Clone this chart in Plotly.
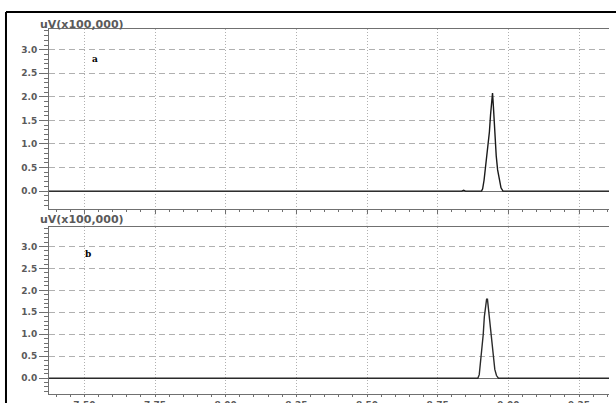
import plotly.graph_objects as go

# Retention time window (min) and detector scale (uV x 100,000)
x_range = [7.375, 9.356]
x_ticks = [7.50, 7.75, 8.00, 8.25, 8.50, 8.75, 9.00, 9.25]
x_tick_text = ["7.50", "7.75", "8.00", "8.25", "8.50", "8.75", "9.00", "9.25"]
y_ticks = [0.0, 0.5, 1.0, 1.5, 2.0, 2.5, 3.0]
y_tick_text = ["0.0", "0.5", "1.0", "1.5", "2.0", "2.5", "3.0"]

# Chromatogram a
time_a = [7.375, 8.835, 8.842, 8.848, 8.905, 8.909, 8.914, 8.918, 8.923, 8.928,
          8.933, 8.937, 8.941, 8.944, 8.947, 8.950, 8.953, 8.957, 8.962, 8.968,
          8.974, 8.981, 9.356]
signal_a = [0.0, 0.0, 0.02, 0.0, 0.0, 0.05, 0.23, 0.45, 0.70, 0.98,
            1.26, 1.62, 1.95, 2.08, 1.80, 1.45, 1.15, 0.75, 0.45, 0.22,
            0.07, 0.0, 0.0]

# Chromatogram b
time_b = [7.375, 8.892, 8.897, 8.902, 8.907, 8.911, 8.915, 8.919, 8.923, 8.926,
          8.929, 8.932, 8.935, 8.939, 8.943, 8.947, 8.952, 8.958, 8.965, 9.356]
signal_b = [0.0, 0.0, 0.08, 0.40, 0.70, 0.99, 1.40, 1.62, 1.80, 1.80,
            1.60, 1.45, 1.20, 0.95, 0.70, 0.45, 0.20, 0.06, 0.0, 0.0]

axis_grey = "#707070"
grid_grey = "#b0b0b0"
text_grey = "#5a5a5a"
tick_font = dict(family="DejaVu Sans", size=9, color=text_grey, weight="bold")
v_dash = "1px,2px"
h_dash = "6px,4px"

fig = go.Figure()
fig.add_trace(go.Scatter(x=time_a, y=signal_a, mode="lines", xaxis="x", yaxis="y",
                         line=dict(color="#1a1a1a", width=1.4), showlegend=False))
fig.add_trace(go.Scatter(x=time_b, y=signal_b, mode="lines", xaxis="x2", yaxis="y2",
                         line=dict(color="#2a2a2a", width=1.4), showlegend=False))

top_dom = [0.5068, 1.0]
bot_dom = [0.0, 0.4584]


def x_axis(show_labels, anchor, ticklen):
    return dict(
        domain=[0, 1], range=x_range, anchor=anchor, automargin=False,
        tickvals=x_ticks, ticktext=x_tick_text, showticklabels=show_labels,
        tickfont=tick_font, ticks="outside", ticklen=ticklen, tickcolor=axis_grey,
        showline=True, linecolor=axis_grey, linewidth=1, mirror=True,
        showgrid=True, gridcolor=grid_grey, griddash=v_dash, gridwidth=1,
        zeroline=False,
        minor=dict(dtick=0.05, tick0=7.5, ticks="outside", ticklen=2,
                   tickcolor=axis_grey, showgrid=False),
    )


def y_axis(dom, rng, anchor):
    return dict(
        domain=dom, range=rng, anchor=anchor, automargin=False,
        tickvals=y_ticks, ticktext=y_tick_text, tickfont=tick_font,
        ticks="outside", ticklen=9, tickcolor=axis_grey,
        showline=True, linecolor=axis_grey, linewidth=1, mirror=False,
        showgrid=True, gridcolor=grid_grey, griddash=h_dash, gridwidth=1,
        zeroline=True, zerolinecolor=axis_grey, zerolinewidth=1.2,
        minor=dict(dtick=0.1, tick0=0, ticks="outside", ticklen=4,
                   tickcolor=axis_grey, showgrid=False),
    )


shapes = []
# vertical grid lines continue through the gap between the panels
for t in x_ticks:
    shapes.append(dict(type="line", xref="x2", yref="paper", x0=t, x1=t,
                       y0=bot_dom[1], y1=top_dom[0],
                       line=dict(color=grid_grey, width=1, dash=v_dash), layer="below"))
# outer frame
shapes.append(dict(type="line", xref="paper", yref="paper", x0=-0.0768, x1=-0.0768,
                   y0=-0.2, y1=1.0466, line=dict(color="black", width=2)))
shapes.append(dict(type="line", xref="paper", yref="paper", x0=-0.0768, x1=1.2,
                   y0=1.0466, y1=1.0466, line=dict(color="black", width=2)))

unit_font = dict(family="DejaVu Sans", size=11, color=text_grey, weight="bold")
annotations = [
    dict(text="uV(x100,000)", xref="paper", yref="paper", x=0.0584, y=1.011,
         xanchor="center", yanchor="middle", showarrow=False, font=unit_font),
    dict(text="uV(x100,000)", xref="paper", yref="paper", x=0.0584, y=0.4786,
         xanchor="center", yanchor="middle", showarrow=False, font=unit_font),
    dict(text="a", xref="x", yref="y", x=7.538, y=2.81, showarrow=False,
         font=dict(family="DejaVu Serif", size=9, color="black", weight="bold")),
    dict(text="b", xref="x2", yref="y2", x=7.512, y=2.83, showarrow=False,
         font=dict(family="DejaVu Serif", size=9, color="black", weight="bold")),
]

fig.update_layout(
    width=616, height=403,
    margin=dict(l=49, r=7, t=29, b=9, autoexpand=False),
    paper_bgcolor="white", plot_bgcolor="white",
    xaxis=x_axis(False, "y", 4),
    yaxis=y_axis(top_dom, [-0.38, 3.44], "x"),
    xaxis2=x_axis(True, "y2", 2),
    yaxis2=y_axis(bot_dom, [-0.36, 3.45], "x2"),
    shapes=shapes, annotations=annotations,
    showlegend=False,
)

fig.write_html("out.html")
